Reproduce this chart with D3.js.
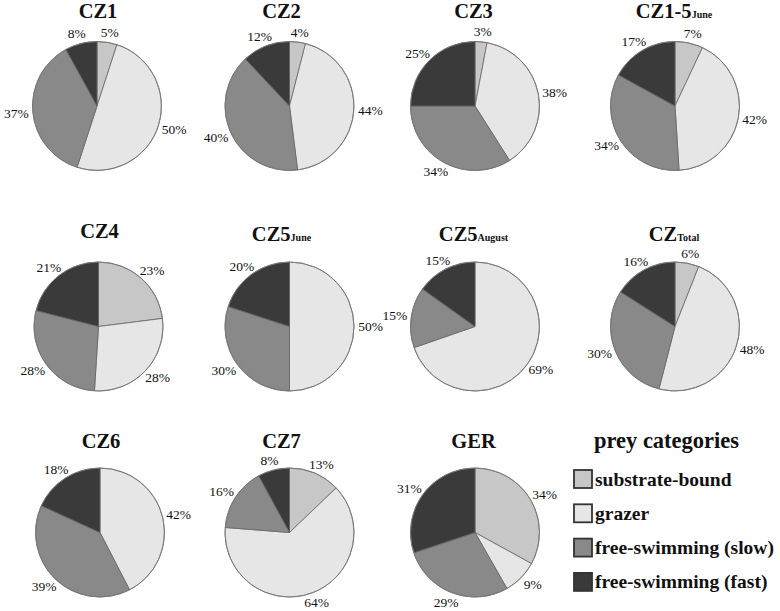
<!DOCTYPE html>
<html><head><meta charset="utf-8">
<script src="https://cdn.jsdelivr.net/npm/d3@7"></script>
<style>
html,body{margin:0;padding:0;background:#fff;}
svg{display:block;}
text{font-family:"Liberation Serif", serif;}
</style></head>
<body>
<svg id="chart" width="780" height="611"></svg>
<script>
// ---- data ----
const categories = ["substrate-bound", "grazer", "free-swimming (slow)", "free-swimming (fast)"];
const sites    = ["CZ1", "CZ2", "CZ3", "CZ1-5", "CZ4", "CZ5", "CZ5", "CZ", "CZ6", "CZ7", "GER"];
const siteSubs = ["", "", "", "June", "", "June", "August", "Total", "", "", ""];
const substrateBound = [5, 4, 3, 7, 23, 0, 0, 6, 0, 13, 34];
const grazer         = [50, 44, 38, 42, 28, 50, 69, 48, 42, 64, 9];
const slowSwimming   = [37, 40, 34, 34, 28, 30, 15, 30, 39, 16, 29];
const fastSwimming   = [8, 12, 25, 17, 21, 20, 15, 16, 18, 8, 31];
const legendTitle = "prey categories";

// ---- layout ----
const svg = d3.select("#chart");
const color = d3.scaleOrdinal().domain(categories)
  .range(["#c7c7c7", "#e6e6e6", "#898989", "#3a3a3a"]);

const colX = [98.5, 289.5, 475, 675];
const rowY = [106, 326.5, 532.5];
const titleBase = [18, 241, 448];
const titleShift = [1, -8, -1.5, -1];
const r = 64.5;

const pie = d3.pie().sort(null).value(d => d.v);
const arc = d3.arc().innerRadius(0).outerRadius(r);

sites.forEach((name, i) => {
  const row = Math.floor(i / 4), col = i % 4;
  const cx = colX[col] + (row === 0 && col === 0 ? -1.5 : 0) + (row === 2 && col === 0 ? 1.5 : 0);
  const cy = rowY[row];
  const data = categories.map((c, k) => ({
    c, v: [substrateBound, grazer, slowSwimming, fastSwimming][k][i]
  }));
  const g = svg.append("g").attr("transform", `translate(${cx},${cy})`);
  const arcs = pie(data).filter(d => d.data.v > 0);
  g.selectAll("path.slice").data(arcs).join("path")
    .attr("class", "slice")
    .attr("d", arc)
    .attr("fill", d => color(d.data.c))
    .attr("stroke", "#666")
    .attr("stroke-width", 0.8)
    .attr("stroke-linejoin", "round");
  g.append("circle").attr("r", r).attr("fill", "none")
    .attr("stroke", "#777").attr("stroke-width", 0.8);

  // labels
  g.selectAll("text.lab").data(arcs).join("text")
    .attr("class", "lab")
    .attr("x", d => {
      const a = (d.startAngle + d.endAngle) / 2;
      return (r + 4) * Math.sin(a) + 12.5 * Math.sin(a);
    })
    .attr("y", d => {
      const a = (d.startAngle + d.endAngle) / 2;
      return -(r + 4) * Math.cos(a) - 6 * Math.cos(a);
    })
    .attr("text-anchor", "middle")
    .attr("dominant-baseline", "central")
    .attr("font-size", 13.5)
    .attr("fill", "#111")
    .text(d => d.data.v + "%");

  // title
  const t = svg.append("text")
    .attr("x", cx + titleShift[col])
    .attr("y", titleBase[row] - (i === 4 ? 3 : 0))
    .attr("text-anchor", "middle")
    .attr("font-weight", "bold")
    .attr("fill", "#111");
  t.append("tspan").attr("font-size", 20.5).text(name);
  if (siteSubs[i]) t.append("tspan").attr("font-size", 10).text(siteSubs[i]);
});

// legend
const lg = svg.append("g");
lg.append("text")
  .attr("x", 666.5).attr("y", 448)
  .attr("text-anchor", "middle")
  .attr("font-weight", "bold")
  .attr("font-size", 22.5).attr("fill", "#111")
  .text(legendTitle);
const items = lg.selectAll("g.item").data(categories).join("g")
  .attr("class", "item")
  .attr("transform", (d, k) => `translate(574,${470 + k * 34.3})`);
items.append("rect")
  .attr("width", 18).attr("height", 18)
  .attr("fill", d => color(d))
  .attr("stroke", "#333").attr("stroke-width", 1.8);
items.append("text")
  .attr("x", 21).attr("y", 15.5)
  .attr("font-weight", "bold")
  .attr("font-size", 19.5).attr("fill", "#111")
  .text(d => d);
</script>
</body></html>
